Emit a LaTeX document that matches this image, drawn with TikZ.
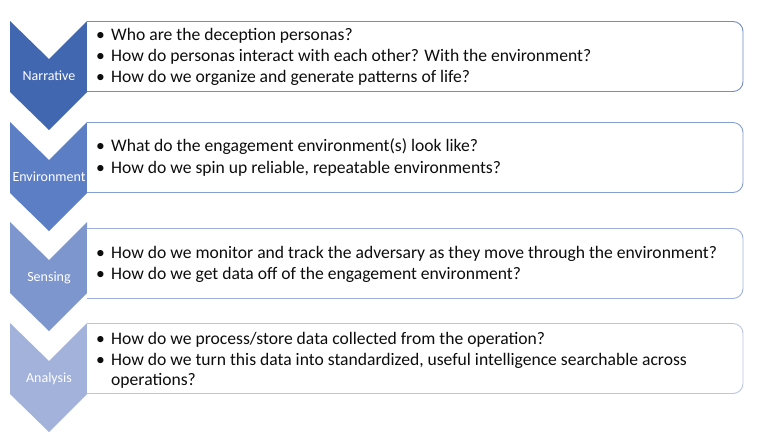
\documentclass[tikz,border=0pt]{standalone}
\usepackage{fontspec}
\setmainfont{Carlito}
\definecolor{cA}{HTML}{4167B1}
\definecolor{cB}{HTML}{5C7EC5}
\definecolor{cC}{HTML}{7E96CE}
\definecolor{cD}{HTML}{A3B2DB}
\definecolor{txt}{HTML}{0D0D0D}
\tikzset{
  chev/.style={fill=#1, draw=none},
  qbox/.style={draw=#1, line width=0.9pt, fill=white},
  lbl/.style={anchor=base, text=white, font=\fontsize{14}{16}\selectfont, inner sep=0pt},
  itm/.style={anchor=base west, text=txt, font=\fontsize{17.6}{21}\selectfont, inner sep=0pt},
  bul/.style={anchor=base west, text=txt, font=\fontsize{17.6}{21}\selectfont, inner sep=0pt},
}
\begin{document}
\begin{tikzpicture}[x=1pt,y=-1pt]
\useasboundingbox (0,0) rectangle (765,437);
\fill[white] (0,0) rectangle (765,437);
% chevrons and boxes
\foreach \T/\B/\c in {21/21/cA,122/122/cB,222/228/cC,323/323/cD}{
  \fill[chev=\c] (10,\T) -- (49,\T+38) -- (87,\T) -- (87,\T+71) -- (49,\T+109) -- (10,\T+71) -- cycle;
  \draw[qbox=\c!75] (87,\B+0.5) -- (733,\B+0.5) arc[start angle=-90,end angle=0,radius=10] -- (743,\B+60.5) arc[start angle=0,end angle=90,radius=10] -- (87,\B+70.5);
}
\node[lbl] (n1) at (49,80) {Narrative};
\node[lbl] (n2) at (49,181) {Environment};
\node[lbl] (n3) at (49,281) {Sensing};
\node[lbl] (n4) at (49,382) {Analysis};
% box 1
\node[bul] (b11) at (96,40) {•};
\node[itm] (t11) at (111,40) {Who are the deception personas?};
\node[bul] (b12) at (96,61) {•};
\node[itm] (t12) at (111,61) {How do personas interact with each other? With the environment?};
\node[bul] (b13) at (96,82) {•};
\node[itm] (t13) at (111,82) {How do we organize and generate patterns of life?};
% box 2
\node[bul] (b21) at (96,151) {•};
\node[itm] (t21) at (111,151) {What do the engagement environment(s) look like?};
\node[bul] (b22) at (96,173) {•};
\node[itm] (t22) at (111,173) {How do we spin up reliable, repeatable environments?};
% box 3
\node[bul] (b31) at (96,258) {•};
\node[itm] (t31) at (111,258) {How do we monitor and track the adversary as they move through the environment?};
\node[bul] (b32) at (96,279) {•};
\node[itm] (t32) at (111,279) {How do we get data off of the engagement environment?};
% box 4
\node[bul] (b41) at (96,344) {•};
\node[itm] (t41) at (111,344) {How do we process/store data collected from the operation?};
\node[bul] (b42) at (96,365) {•};
\node[itm] (t42) at (111,365) {How do we turn this data into standardized, useful intelligence searchable across};
\node[itm] (t43) at (111,385) {operations?};
\end{tikzpicture}
\end{document}
